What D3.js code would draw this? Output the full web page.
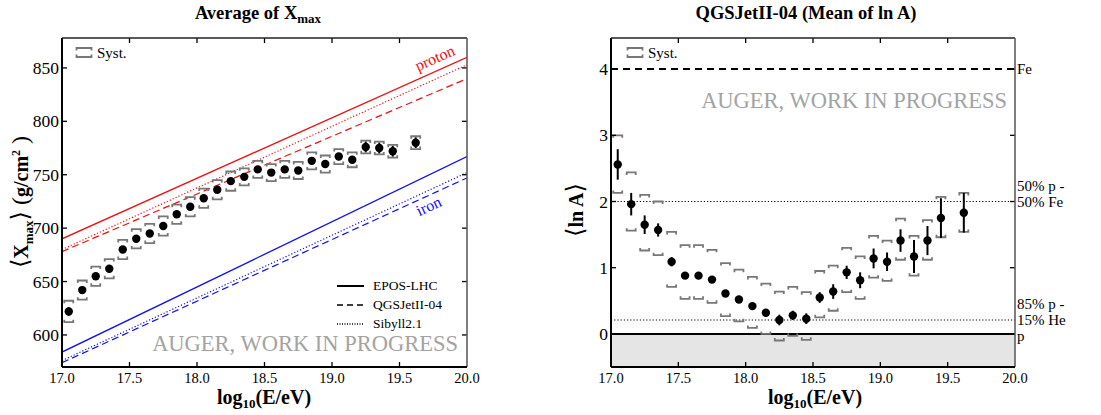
<!DOCTYPE html>
<html>
<head>
<meta charset="utf-8">
<script src="https://cdn.jsdelivr.net/npm/d3@7"></script>
<style>
  html, body { margin: 0; padding: 0; background: #fff; font-family: "Liberation Serif", "Times New Roman", Times, "DejaVu Serif", serif; }
  svg, svg text { font-family: "Liberation Serif", "Times New Roman", Times, "DejaVu Serif", serif; }
  svg { display: block; }
</style>
</head>
<body>
<svg id="chart" width="1101" height="415"></svg>
<script>
// Energy bins (log10 E/eV)
const lgE = [17.05, 17.15, 17.25, 17.35, 17.45, 17.55, 17.65, 17.75, 17.85, 17.95,
             18.05, 18.15, 18.25, 18.35, 18.45, 18.55, 18.65, 18.75, 18.85, 18.95,
             19.05, 19.15, 19.25, 19.35, 19.45, 19.62];

// <Xmax> in g/cm^2 with statistical and systematic uncertainties
const xmax = [622, 642, 655, 662, 680, 690, 695, 702, 713, 720,
              728, 736, 744, 748, 755, 752, 755, 754, 763, 760,
              767, 764, 776, 775, 772, 780];
const xmaxStat = [4, 3, 3, 3, 3, 2, 2, 2, 2, 2,
                  2, 2, 2, 2, 2, 2, 2, 2, 2, 3,
                  3, 3, 5, 5, 5, 5];
const xmaxSyst = [10, 9, 9, 9, 9, 9, 9, 9, 9, 9,
                  9, 9, 9, 8, 8, 8, 8, 8, 8, 8,
                  7, 7, 6, 6, 6, 6];

// <ln A> (QGSJetII-04) with statistical errors and systematic band edges
const lnA = [2.56, 1.96, 1.65, 1.57, 1.09, 0.88, 0.88, 0.82, 0.61, 0.52,
             0.42, 0.32, 0.21, 0.28, 0.23, 0.55, 0.64, 0.93, 0.81, 1.14,
             1.09, 1.41, 1.17, 1.41, 1.75, 1.83];
const lnAStat = [0.23, 0.17, 0.14, 0.10, 0.07, 0.04, 0.04, 0.04, 0.04, 0.04,
                 0.05, 0.05, 0.08, 0.07, 0.08, 0.08, 0.11, 0.10, 0.12, 0.15,
                 0.14, 0.17, 0.25, 0.22, 0.30, 0.30];
const lnASystHi = [3.00, 2.44, 2.10, 2.00, 1.54, 1.34, 1.34, 1.27, 1.07, 0.97,
                   0.86, 0.76, 0.64, 0.71, 0.63, 0.95, 1.03, 1.30, 1.17, 1.48,
                   1.41, 1.74, 1.48, 1.72, 2.07, 2.13];
const lnASystLo = [2.13, 1.56, 1.26, 1.19, 0.71, 0.53, 0.53, 0.47, 0.27, 0.19,
                   0.09, 0.00, -0.10, -0.03, -0.09, 0.25, 0.35, 0.63, 0.53, 0.85,
                   0.80, 1.12, 0.88, 1.12, 1.46, 1.54];

// Model predictions (straight lines between the range ends)
const modelLgE = [17.0, 20.0];
const models = ["EPOS-LHC", "QGSJetII-04", "Sibyll2.1"];
const protonEPOS = [690, 860];
const protonQGS = [678, 840];
const protonSib = [680, 853];
const ironEPOS = [584, 767];
const ironQGS = [574, 747];
const ironSib = [576, 752];

// Reference compositions in <ln A>
const refLevels = [4.0, 2.0, 0.21, 0.0];

const xTicks = [17.0, 17.5, 18.0, 18.5, 19.0, 19.5, 20.0];
const xmaxTicks = [600, 650, 700, 750, 800, 850];
const lnATicks = [0, 1, 2, 3, 4];

const FONT = "Liberation Serif, Times New Roman, serif";
const svg = d3.select("#chart").attr("font-family", FONT);
const SYST_GRAY = "#777";
const WATERMARK = "#a3a3a3";

// ---------- helpers ----------
function frame(g, x, y, ticksX, ticksY, fmtY, rightTicks) {
  const [x0, x1] = x.range();
  const [y0, y1] = y.range();
  const tl = 5;
  // ticks (inward)
  const tk = g.append("g").attr("stroke", "#000").attr("stroke-width", 1.3);
  ticksX.slice(1, -1).forEach(v => {
    tk.append("line").attr("x1", x(v)).attr("x2", x(v)).attr("y1", y0).attr("y2", y0 - tl);
    tk.append("line").attr("x1", x(v)).attr("x2", x(v)).attr("y1", y1).attr("y2", y1 + tl);
  });
  ticksY.forEach(v => {
    tk.append("line").attr("x1", x0).attr("x2", x0 + tl).attr("y1", y(v)).attr("y2", y(v));
    if (rightTicks) tk.append("line").attr("x1", x1).attr("x2", x1 - tl).attr("y1", y(v)).attr("y2", y(v));
  });
  // box
  g.append("line").attr("x1", x0).attr("x2", x1).attr("y1", y1).attr("y2", y1)
    .attr("stroke", "#222").attr("stroke-width", 1.5);
  g.append("line").attr("x1", x1).attr("x2", x1).attr("y1", y1).attr("y2", y0)
    .attr("stroke", "#555").attr("stroke-width", 1.5);
  g.append("line").attr("x1", x0).attr("x2", x0).attr("y1", y1).attr("y2", y0)
    .attr("stroke", "#000").attr("stroke-width", 2);
  g.append("line").attr("x1", x0).attr("x2", x1).attr("y1", y0).attr("y2", y0)
    .attr("stroke", "#000").attr("stroke-width", 2);
  // tick labels
  g.append("g").selectAll("text").data(ticksX).join("text")
    .attr("x", d => x(d)).attr("y", y0 + 16)
    .attr("text-anchor", "middle").attr("font-size", 14.5)
    .text(d => d.toFixed(1));
  g.append("g").selectAll("text").data(ticksY).join("text")
    .attr("x", x0 - 3).attr("y", d => y(d)).attr("dy", "0.35em")
    .attr("text-anchor", "end").attr("font-size", 17.5)
    .text(fmtY);
}

function systBracket(g, cx, yTop, yBot, w) {
  const h = 2.5;
  const p = d3.path();
  p.moveTo(cx - w, yTop + h); p.lineTo(cx - w, yTop); p.lineTo(cx + w, yTop); p.lineTo(cx + w, yTop + h);
  p.moveTo(cx - w, yBot - h); p.lineTo(cx - w, yBot); p.lineTo(cx + w, yBot); p.lineTo(cx + w, yBot - h);
  g.append("path").attr("d", p.toString()).attr("fill", "none")
    .attr("stroke", SYST_GRAY).attr("stroke-width", 1.8);
}

function xLabel(g, cx, y) {
  const t = g.append("text").attr("x", cx).attr("y", y).attr("text-anchor", "middle")
    .attr("font-size", 20).attr("font-weight", "bold");
  t.append("tspan").text("log");
  t.append("tspan").attr("font-size", 13).attr("dy", 4).text("10");
  t.append("tspan").attr("dy", -4).text("(E/eV)");
}

function watermark(g, x, y) {
  g.append("text").attr("x", x).attr("y", y).attr("text-anchor", "end")
    .attr("font-size", 22.5).attr("fill", WATERMARK)
    .text("AUGER, WORK IN PROGRESS");
}

function systLegend(g, x, y) {
  systBracket(g, x + 8, y - 7, y + 2, 7.5);
  g.append("text").attr("x", x + 21).attr("y", y + 3).attr("font-size", 15).text("Syst.");
}

// ---------- left panel: <Xmax> ----------
const gL = svg.append("g");
const xL = d3.scaleLinear().domain([17, 20]).range([62, 467]);
const yL = d3.scaleLinear().domain([570, 878]).range([367, 38]);

// title
{
  const t = gL.append("text").attr("x", 258).attr("y", 19).attr("text-anchor", "middle")
    .attr("font-size", 18.5).attr("font-weight", "bold");
  t.append("tspan").text("Average of X");
  t.append("tspan").attr("font-size", 13).attr("dy", 4).text("max");
}

watermark(gL, 458, 351);

const lineL = d3.line().x((d, i) => xL(modelLgE[i])).y(d => yL(d));
const styleDash = { "EPOS-LHC": null, "QGSJetII-04": "7,4", "Sibyll2.1": "1.2,2" };
svg.append("clipPath").attr("id", "clipL").append("rect")
  .attr("x", 62).attr("y", 38).attr("width", 405).attr("height", 329);
const modelsG = gL.append("g").attr("clip-path", "url(#clipL)").attr("fill", "none");
[[protonEPOS, "#f01010", "EPOS-LHC"], [protonQGS, "#f01010", "QGSJetII-04"], [protonSib, "#f01010", "Sibyll2.1"],
 [ironEPOS, "#1010f0", "EPOS-LHC"], [ironQGS, "#1010f0", "QGSJetII-04"], [ironSib, "#1010f0", "Sibyll2.1"]]
  .forEach(([vals, col, m]) => {
    modelsG.append("path").attr("d", lineL(vals)).attr("stroke", col)
      .attr("stroke-width", m === "EPOS-LHC" ? 1.3 : 1.2)
      .attr("stroke-dasharray", styleDash[m]);
  });

gL.append("text").attr("transform", "translate(437,63) rotate(-24)")
  .attr("text-anchor", "middle").attr("font-size", 16).attr("fill", "#f01010").text("proton");
gL.append("text").attr("transform", "translate(431,211) rotate(-25)")
  .attr("text-anchor", "middle").attr("font-size", 16).attr("fill", "#1010f0").text("iron");

// legend for models
models.forEach((m, i) => {
  const y = 286 + i * 19;
  gL.append("line").attr("x1", 337).attr("x2", 364).attr("y1", y).attr("y2", y)
    .attr("stroke", "#000").attr("stroke-width", m === "EPOS-LHC" ? 2 : 1.3)
    .attr("stroke-dasharray", m === "QGSJetII-04" ? "6,4" : (m === "Sibyll2.1" ? "1,1.5" : null));
  gL.append("text").attr("x", 373).attr("y", y + 4).attr("font-size", 13.5).text(m);
});

// data
const dL = gL.append("g");
lgE.forEach((e, i) => {
  systBracket(dL, xL(e), yL(xmax[i] + xmaxSyst[i]), yL(xmax[i] - xmaxSyst[i]), 4.5);
});
lgE.forEach((e, i) => {
  dL.append("line").attr("x1", xL(e)).attr("x2", xL(e))
    .attr("y1", yL(xmax[i] + xmaxStat[i])).attr("y2", yL(xmax[i] - xmaxStat[i]))
    .attr("stroke", "#000").attr("stroke-width", 2);
  dL.append("circle").attr("cx", xL(e)).attr("cy", yL(xmax[i])).attr("r", 4.2).attr("fill", "#000");
});

frame(gL, xL, yL, xTicks, xmaxTicks, d => d, true);
systLegend(gL, 76, 55);
xLabel(gL, 264, 404);

// y label
{
  const t = gL.append("text").attr("transform", "translate(28,202) rotate(-90)")
    .attr("text-anchor", "middle").attr("font-size", 20).attr("font-weight", "bold");
  t.append("tspan").attr("font-weight", "normal").attr("font-size", 24).text("\u27E8");
  t.append("tspan").text("X");
  t.append("tspan").attr("font-size", 13).attr("dy", 5).text("max");
  t.append("tspan").attr("dy", -5).attr("font-weight", "normal").attr("font-size", 24).text("\u27E9");
  t.append("tspan").attr("font-weight", "normal").attr("font-size", 24).text(" (");
  t.append("tspan").text("g/cm");
  t.append("tspan").attr("font-size", 12).attr("dy", -8).text("2");
  t.append("tspan").attr("dy", 8).attr("font-weight", "normal").attr("font-size", 24).text(" )");
}

// ---------- right panel: <ln A> ----------
const gR = svg.append("g");
const xR = d3.scaleLinear().domain([17, 20]).range([611, 1015]);
const yR = d3.scaleLinear().domain([-0.5, 4.47]).range([367, 38]);

gR.append("text").attr("x", 806).attr("y", 19).attr("text-anchor", "middle")
  .attr("font-size", 18.5).attr("font-weight", "bold").text("QGSJetII-04 (Mean of ln A)");

// shaded unphysical region
gR.append("rect").attr("x", xR(17)).attr("y", yR(0))
  .attr("width", xR(20) - xR(17)).attr("height", yR(-0.5) - yR(0)).attr("fill", "#e5e5e5");

watermark(gR, 1007, 108);

// reference levels
gR.append("line").attr("x1", xR(17)).attr("x2", xR(20)).attr("y1", yR(refLevels[0])).attr("y2", yR(refLevels[0]))
  .attr("stroke", "#000").attr("stroke-width", 2).attr("stroke-dasharray", "7,5");
gR.append("line").attr("x1", xR(17)).attr("x2", xR(20)).attr("y1", yR(refLevels[1])).attr("y2", yR(refLevels[1]))
  .attr("stroke", "#000").attr("stroke-width", 1.2).attr("stroke-dasharray", "1.2,2");
gR.append("line").attr("x1", xR(17)).attr("x2", xR(20)).attr("y1", yR(refLevels[2])).attr("y2", yR(refLevels[2]))
  .attr("stroke", "#000").attr("stroke-width", 1.2).attr("stroke-dasharray", "1.2,2");
gR.append("line").attr("x1", xR(17)).attr("x2", xR(20)).attr("y1", yR(refLevels[3])).attr("y2", yR(refLevels[3]))
  .attr("stroke", "#000").attr("stroke-width", 2);

// level labels on the right
const lbl = [["Fe", refLevels[0], 0], ["50% p -", refLevels[1], -16], ["50% Fe", refLevels[1], 0],
             ["85% p -", refLevels[2], -16], ["15% He", refLevels[2], 0], ["p", refLevels[3], 2]];
lbl.forEach(([t, v, off]) => {
  gR.append("text").attr("x", xR(20) + 2).attr("y", yR(v) + off).attr("dy", "0.35em")
    .attr("font-size", 15).text(t);
});

const dR = gR.append("g");
lgE.forEach((e, i) => {
  systBracket(dR, xR(e), yR(lnASystHi[i]), yR(lnASystLo[i]), 4.5);
});
lgE.forEach((e, i) => {
  dR.append("line").attr("x1", xR(e)).attr("x2", xR(e))
    .attr("y1", yR(lnA[i] + lnAStat[i])).attr("y2", yR(lnA[i] - lnAStat[i]))
    .attr("stroke", "#000").attr("stroke-width", 2);
  dR.append("circle").attr("cx", xR(e)).attr("cy", yR(lnA[i])).attr("r", 4.2).attr("fill", "#000");
});

frame(gR, xR, yR, xTicks, lnATicks, d => d, true);
systLegend(gR, 627, 55);
xLabel(gR, 815, 404);

{
  const t = gR.append("text").attr("transform", "translate(583,210) rotate(-90)")
    .attr("text-anchor", "middle").attr("font-size", 20).attr("font-weight", "bold");
  t.append("tspan").attr("font-weight", "normal").attr("font-size", 24).text("\u27E8");
  t.append("tspan").text("ln A");
  t.append("tspan").attr("font-weight", "normal").attr("font-size", 24).text("\u27E9");
}
</script>
</body>
</html>
